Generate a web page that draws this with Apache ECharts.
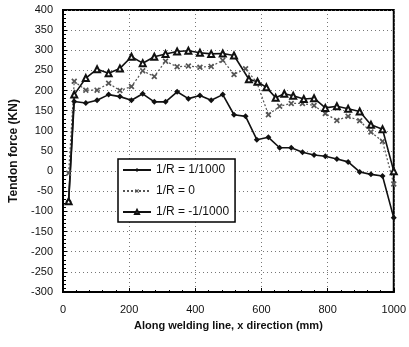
<!DOCTYPE html>
<html>
<head>
<meta charset="utf-8">
<script src="https://cdn.jsdelivr.net/npm/echarts@6/dist/echarts.min.js"></script>
<style>html,body{margin:0;padding:0;background:#fff;}#c{width:409px;height:347px;}</style>
</head>
<body>
<div id="c"></div>
<script>
var xGrid = [17, 34, 69, 103, 138, 172, 207, 241, 276, 310, 345, 379, 414, 448, 483, 517, 552, 586, 621, 655, 690, 724, 759, 793, 828, 862, 897, 931, 966, 1000];
var seriesPos = [-75, 173, 169, 176, 190, 185, 176, 192, 172, 172, 197, 180, 188, 176, 190, 140, 136, 78, 84, 58, 58, 47, 40, 37, 30, 23, -2, -8, -12, -116];
var seriesZero = [-5, 223, 201, 201, 218, 200, 210, 249, 235, 273, 259, 261, 258, 260, 275, 240, 254, 220, 140, 161, 168, 168, 163, 143, 126, 136, 125, 97, 74, -32];
var xNeg = [17, 34, 69, 103, 138, 172, 207, 241, 276, 310, 345, 379, 414, 448, 483, 517, 562, 588, 615, 643, 669, 696, 728, 759, 793, 828, 862, 897, 931, 966, 1000];
var seriesNeg = [-75, 190, 231, 253, 243, 255, 284, 268, 284, 291, 297, 299, 294, 291, 292, 287, 228, 222, 208, 182, 192, 187, 179, 181, 157, 161, 155, 148, 115, 104, 0];
var names = ['1/R = 1/1000', '1/R = 0', '1/R = -1/1000'];
var xTicks = [0, 200, 400, 600, 800, 1000];

function pairs(xs, ys) { return xs.map(function (x, i) { return [x, ys[i]]; }); }

var font = 'Liberation Sans';
var chart = echarts.init(document.getElementById('c'));
chart.setOption({
  animation: false,
  backgroundColor: '#fff',
  grid: { left: 63, right: 15, top: 10, bottom: 55, show: true, borderColor: '#000', borderWidth: 2, backgroundColor: 'transparent' },
  xAxis: {
    type: 'value', min: 0, max: 1000, interval: 200,
    name: 'Along welding line, x direction (mm)', nameLocation: 'middle', nameGap: 28,
    nameTextStyle: { fontFamily: font, fontSize: 11, fontWeight: 'bold', color: '#111' },
    axisLine: { show: true, onZero: false, lineStyle: { color: '#000', width: 2 } },
    axisTick: { show: true, inside: true, length: 4, lineStyle: { color: '#000' } },
    minorTick: { show: true, splitNumber: 5, length: 2, lineStyle: { color: '#000' } },
    axisLabel: { fontFamily: font, fontSize: 11, color: '#111', margin: 12,
      formatter: function (v) { return xTicks.indexOf(v) >= 0 ? String(v) : ''; } },
    splitLine: { show: true, lineStyle: { color: '#777', type: [1, 3], width: 1 } }
  },
  yAxis: {
    type: 'value', min: -300, max: 400, interval: 50,
    name: 'Tendon force (KN)', nameLocation: 'middle', nameGap: 35,
    nameTextStyle: { fontFamily: font, fontSize: 12, fontWeight: 'bold', color: '#111' },
    axisLine: { show: true, onZero: false, lineStyle: { color: '#000', width: 2 } },
    axisTick: { show: true, inside: true, length: 4, lineStyle: { color: '#000' } },
    minorTick: { show: true, splitNumber: 5, length: 3, lineStyle: { color: '#000' } },
    axisLabel: { fontFamily: font, fontSize: 11, color: '#111', margin: 10 },
    splitLine: { show: true, lineStyle: { color: '#777', type: [1, 3], width: 1 } }
  },
  legend: {
    orient: 'vertical', left: 118, top: 159,
    backgroundColor: '#fff', borderColor: '#000', borderWidth: 1.5, borderRadius: 0,
    padding: [5, 6, 4, 4], itemGap: 9, itemWidth: 28, itemHeight: 5,
    textStyle: { fontFamily: font, fontSize: 12, color: '#111' },
    data: names
  },
  series: [
    {
      name: names[0], type: 'line', data: pairs(xGrid, seriesPos),
      symbol: 'diamond', symbolSize: 6,
      lineStyle: { color: '#111', width: 1.6 },
      itemStyle: { color: '#111' }
    },
    {
      name: names[1], type: 'line', data: pairs(xGrid, seriesZero),
      symbol: 'path://M0,2L2,0L5,3L8,0L10,2L7,5L10,8L8,10L5,7L2,10L0,8L3,5Z', symbolSize: 6,
      lineStyle: { color: '#555', width: 1.2, type: [2, 2] },
      itemStyle: { color: '#555' }
    },
    {
      name: names[2], type: 'line', data: pairs(xNeg, seriesNeg),
      symbol: 'emptyTriangle', symbolSize: 6,
      lineStyle: { color: '#111', width: 1.6 },
      itemStyle: { color: '#111', borderColor: '#111', borderWidth: 1.3 }
    }
  ]
});
</script>
</body>
</html>
